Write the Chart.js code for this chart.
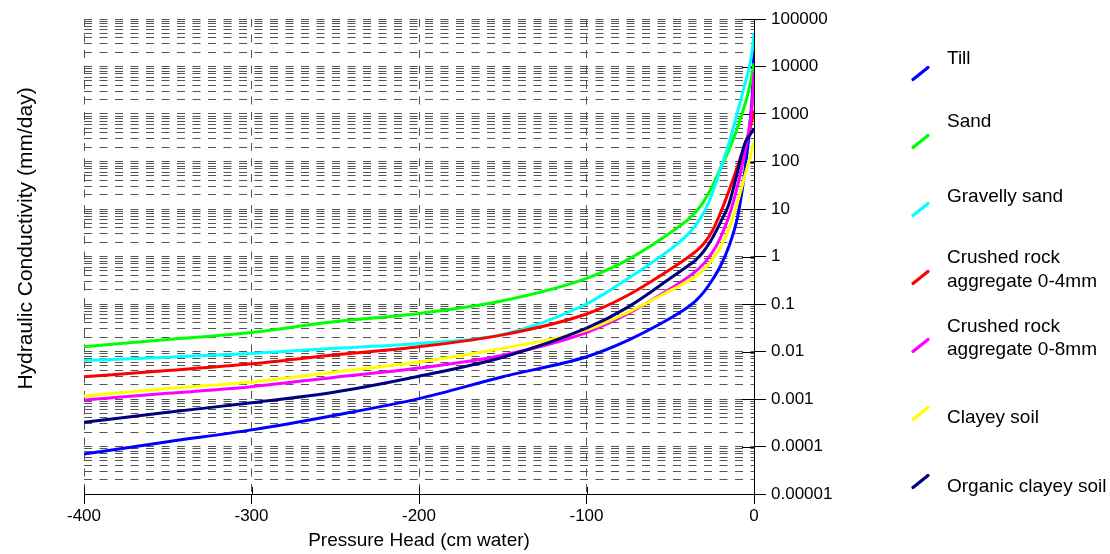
<!DOCTYPE html>
<html><head><meta charset="utf-8">
<script src="https://cdn.jsdelivr.net/npm/chart.js@4.4.1/dist/chart.umd.min.js"></script>
<style>html,body{margin:0;padding:0;background:#fff;}#wrap{position:relative;width:1110px;height:554px;}</style>
</head><body><div id="wrap"><canvas id="c" width="1110" height="554"></canvas></div>
<script>
// ---------- data ----------
const pressureHead = [-400, -350, -300, -250, -200, -150, -100, -75, -50, -40, -35, -30, -25, -20, -15, -10, -7, -5, -3, -2, -1, 0];

const seriesNames = ['Till', 'Sand', 'Gravelly sand', 'Crushed rock\naggregate 0-4mm', 'Crushed rock\naggregate 0-8mm', 'Clayey soil', 'Organic clayey soil'];

const till        = [6.92e-5, 1.26e-4, 2.24e-4, 4.57e-4, 1.02e-3, 2.95e-3, 7.76e-3, 0.0174, 0.0501, 0.0832, 0.115, 0.178, 0.316, 0.631, 1.62, 6.31, 25.7, 85.1, 355, 912, 2512, 25700];
const sand        = [0.0126, 0.0178, 0.0251, 0.0427, 0.0631, 0.117, 0.347, 0.871, 3.16, 5.75, 8.51, 14.5, 29.5, 72.4, 174, 501, 1047, 1778, 3311, 4786, 7244, 11750];
const gravelSand  = [0.00646, 0.00759, 0.00912, 0.0117, 0.0148, 0.0229, 0.1, 0.347, 1.41, 2.82, 4.47, 8.32, 20.9, 69.2, 240, 1047, 2630, 4786, 9120, 13180, 22900, 50100];
const crushed04   = [0.00295, 0.00398, 0.0055, 0.00851, 0.0126, 0.0224, 0.0617, 0.155, 0.537, 0.933, 1.26, 1.86, 3.39, 8.32, 24.0, 75.9, 158, 251, 417, 575, 794, 1202];
const crushed08   = [9.55e-4, 1.32e-3, 1.82e-3, 2.88e-3, 4.47e-3, 8.32e-3, 0.0251, 0.0631, 0.209, 0.355, 0.479, 0.708, 1.20, 2.51, 6.92, 28.8, 85.1, 186, 479, 832, 1778, 7586];
const clayeySoil  = [1.15e-3, 1.66e-3, 2.29e-3, 3.72e-3, 6.03e-3, 0.0117, 0.0282, 0.0676, 0.191, 0.295, 0.380, 0.537, 0.851, 1.585, 3.80, 13.2, 31.6, 57.5, 105, 141, 191, 263];
const organicClay = [3.24e-4, 5.25e-4, 8.32e-4, 1.41e-3, 3.02e-3, 7.59e-3, 0.0309, 0.0871, 0.347, 0.617, 0.832, 1.29, 2.40, 5.25, 12.6, 57.5, 158, 263, 339, 380, 437, 501];

const seriesValues = [till, sand, gravelSand, crushed04, crushed08, clayeySoil, organicClay];

const xTickLabels = ['-400', '-300', '-200', '-100', '0'];
const yTickLabels = ['0.00001', '0.0001', '0.001', '0.01', '0.1', '1', '10', '100', '1000', '10000', '100000'];
const yMinExp = -5;

// ---------- styles ----------
const seriesColors = ['#0000FF', '#00FF00', '#00FFFF', '#FF0000', '#FF00FF', '#FFFF00', '#000080'];
const FONT = '"Liberation Sans", Arial, sans-serif';
const GRID = '#555555';

function logOf(v) { return Math.log10(v); }
function isDecade(v) { const l = logOf(v); return Math.abs(l - Math.round(l)) < 1e-9; }

// y grid values: 1..9 x 10^k
const yGridValues = [];
for (let e = yMinExp; e < yMinExp + yTickLabels.length - 1; e++) {
  for (let s = 1; s <= 9; s++) yGridValues.push(Number((s * Math.pow(10, e)).toPrecision(6)));
}
yGridValues.push(Math.pow(10, yMinExp + yTickLabels.length - 1));

const datasets = seriesValues.map((vals, i) => ({
  label: seriesNames[i].replace('\n', ' '),
  data: pressureHead.map((h, j) => ({ x: h, y: vals[j] })),
  borderColor: seriesColors[i],
  backgroundColor: seriesColors[i],
  borderWidth: 3,
  pointRadius: 0,
  fill: false,
  cubicInterpolationMode: 'monotone',
  order: seriesValues.length - i
}));

const innerTicks = {
  id: 'innerTicks',
  beforeDatasetsDraw(chart) {
    const { ctx, chartArea: a, scales: { x, y } } = chart;
    ctx.save();
    ctx.strokeStyle = '#000'; ctx.lineWidth = 1; ctx.setLineDash([]);
    ctx.beginPath();
    y.ticks.forEach(t => {
      if (isDecade(t.value)) {
        const py = Math.round(y.getPixelForValue(t.value)) + 0.5;
        ctx.moveTo(a.right - 12, py); ctx.lineTo(a.right, py);
      }
    });
    x.ticks.forEach(t => {
      const px = Math.round(x.getPixelForValue(t.value)) + 0.5;
      ctx.moveTo(px, a.bottom - 7); ctx.lineTo(px, a.bottom);
    });
    ctx.stroke();
    ctx.restore();
  }
};

const sideText = {
  id: 'sideText',
  afterDraw(chart) {
    const ctx = chart.ctx;
    ctx.save();
    ctx.fillStyle = '#000';
    ctx.font = '21px ' + FONT;
    ctx.textAlign = 'center';
    ctx.textBaseline = 'alphabetic';
    ctx.translate(31.5, 238.5);
    ctx.rotate(-Math.PI / 2);
    ctx.fillText('Hydraulic Conductivity (mm/day)', 0, 0);
    ctx.restore();

    const markerY0 = 73.5, step = 68;
    const baselines = [[64], [127], [202], [263, 287], [332, 355], [423], [492]];
    ctx.save();
    ctx.font = '19px ' + FONT;
    ctx.textAlign = 'left';
    ctx.textBaseline = 'alphabetic';
    chart.data.datasets.forEach((ds, i) => {
      const cy = markerY0 + i * step;
      ctx.strokeStyle = ds.borderColor;
      ctx.lineWidth = 3.2;
      ctx.lineCap = 'round';
      ctx.beginPath();
      ctx.moveTo(913, cy + 6);
      ctx.lineTo(928, cy - 6);
      ctx.stroke();
      ctx.fillStyle = '#000';
      const lines = seriesNames[i].split('\n');
      lines.forEach((ln, k) => ctx.fillText(ln, 947, baselines[i][k]));
    });
    ctx.restore();
  }
};

new Chart(document.getElementById('c'), {
  type: 'line',
  data: { datasets },
  plugins: [innerTicks, sideText],
  options: {
    responsive: false,
    animation: false,
    devicePixelRatio: 1,
    layout: { padding: { top: 19, left: 84, right: 0, bottom: 0 } },
    plugins: { legend: { display: false }, tooltip: { enabled: false } },
    scales: {
      x: {
        type: 'linear', position: 'bottom', min: -400, max: 0,
        afterFit(s) { s.height = 60; },
        ticks: { stepSize: 100, padding: 2, color: '#000', maxRotation: 0, font: { family: FONT, size: 17 },
                 callback: (v, i) => xTickLabels[i] },
        grid: { color: (c) => (c.tick && c.tick.value === 0) ? 'rgba(0,0,0,0)' : GRID, lineWidth: 1, tickLength: 10, tickColor: '#000', tickWidth: 1 },
        border: { display: true, color: '#000', width: 1, dash: [8, 7.5] },
        title: { display: true, text: 'Pressure Head (cm water)', color: '#000', font: { family: FONT, size: 19 }, padding: { top: 0, bottom: 1.5 } }
      },
      y: {
        type: 'logarithmic', position: 'right', min: 1e-5, max: 1e5,
        afterBuildTicks(s) { s.ticks = yGridValues.map(v => ({ value: v })); },
        afterFit(s) { s.width = 356; },
        ticks: { autoSkip: false, padding: 5, color: '#000', font: { family: FONT, size: 17 },
                 callback: (v) => isDecade(v) ? yTickLabels[Math.round(logOf(v)) - yMinExp] : '' },
        grid: { color: (c) => (c.tick && Math.abs(c.tick.value - 1e-5) < 1e-12) ? 'rgba(0,0,0,0)' : GRID, lineWidth: 1, tickLength: 12, tickWidth: 1,
                tickColor: (c) => (c.tick && isDecade(c.tick.value)) ? '#000' : 'rgba(0,0,0,0)' },
        border: { display: true, color: '#000', width: 1, dash: [8, 7.5] }
      }
    }
  }
});
</script></body></html>
